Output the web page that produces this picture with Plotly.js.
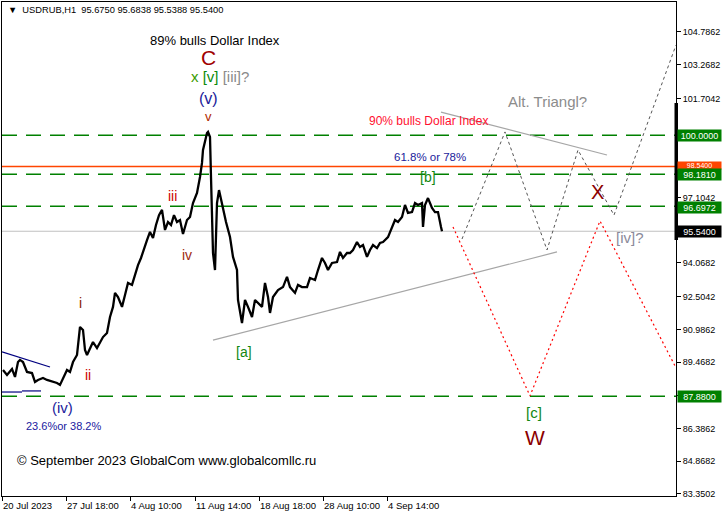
<!DOCTYPE html>
<html>
<head>
<meta charset="utf-8">
<script src="https://cdn.plot.ly/plotly-3.0.1.min.js"></script>
<style>html,body{margin:0;padding:0;background:#fff;}#chart{width:722px;height:518px;}</style>
</head>
<body>
<div id="chart"></div>
<script>
// ---- data (bar index on x, price on y) ----
const barIdx = [3,7,12,15,18,20,23,27,32,35,38,43,47,53,57,60,63,67,70,73,77,80,83,85,87,90,93,97,100,103,107,110,113,115,118,122,125,128,132,135,138,141,144,147,150,153,156,159,162,165,168,171,174,177,180,183,187,190,193,197,200,202,203,205,207,208,210,211,212,213,215,216,217,219,221,223,226,230,233,237,238,242,245,248,252,255,258,262,265,268,270,273,278,283,287,290,295,298,302,307,310,315,318,322,325,328,332,337,340,343,347,350,353,357,360,363,367,370,373,377,380,383,388,392,395,398,402,405,408,412,415,418,422,423,425,428,432,435,438,441,442];
const closePrice = [89.10,88.87,89.15,88.78,89.47,89.57,89.47,89.01,88.96,88.55,88.64,88.73,88.64,88.55,88.50,88.41,88.73,89.10,89.01,89.47,89.80,91.10,90.96,90.03,89.80,90.12,90.40,90.12,90.40,90.63,90.82,91.56,92.03,92.68,92.49,92.03,92.58,93.14,93.05,93.51,93.97,94.30,94.67,95.13,95.51,95.23,95.83,96.29,96.53,95.60,95.97,95.83,96.29,95.97,96.06,95.41,96.06,96.20,96.85,97.32,98.06,98.71,99.31,99.77,100.10,100.15,99.91,98.06,96.06,94.53,93.74,96.06,96.85,97.45,96.99,96.67,95.97,95.27,94.35,93.74,92.35,91.28,92.35,92.03,91.56,92.35,92.21,92.03,93.14,92.49,91.75,92.49,92.81,92.95,93.42,92.95,92.68,93.05,92.95,92.95,93.37,93.28,93.74,94.30,94.07,93.74,94.07,94.11,94.58,94.30,94.53,94.53,94.67,95.04,94.81,94.90,94.35,94.67,94.90,94.76,95.00,95.04,95.27,95.74,96.06,95.97,96.20,96.76,96.39,96.43,96.85,96.76,96.85,95.74,96.76,97.08,96.62,96.43,96.43,95.74,95.54];

const levelGreen = [100.0, 98.181, 96.6972, 87.88];
const levelOrange = 98.54;
const levelBid = 95.54;

const supportX = [213, 557];   const supportY = [90.49, 94.58];
const upperX = [441, 607];     const upperY = [101.07, 99.08];
const navyX = [2, 50];         const navyY = [89.94, 89.24];
const navyLowX1 = [2, 22];     const navyLowY1 = [88.08, 88.08];
const navyLowX2 = [22, 41];    const navyLowY2 = [88.13, 88.13];
const altPathX = [462, 505, 547, 578, 614, 676];
const altPathY = [95.18, 100.15, 94.67, 99.31, 96.29, 104.18];
const mainPathX = [453, 530, 600, 675];
const mainPathY = [95.74, 87.90, 96.02, 89.29];

const yTickVals = [104.7862,103.2682,101.7042,100.1862,98.6462,97.1042,95.5862,94.0682,92.5042,90.9862,89.4682,87.9262,86.3862,84.8682,83.3502];
const yTickHidden = [100.1862, 98.6462, 95.5862, 87.9262];   // covered by price tags
const yTickText = yTickVals.map(v => yTickHidden.includes(v) ? '' : v.toFixed(4));
const xTickPos = [2, 66, 130, 195, 259, 323, 387];
const xTickLabels = ['20 Jul 2023','27 Jul 18:00','4 Aug 10:00','11 Aug 14:00','18 Aug 18:00','28 Aug 10:00','4 Sep 14:00'];

const tagValues = [100.0, 98.54, 98.181, 96.6972, 95.54, 87.88];
const tagColors = ['#008000', '#ff4500', '#008000', '#008000', '#000000', '#008000'];

// ---- helpers for positioning text (pixel -> axis) ----
const Y_TOP = 106.178, Y_BOT = 83.255;
function yp(py){ return 104.7862 - (py - 32) / 21.55; }

const F = 'Liberation Sans, Arial, sans-serif';
const traces = [];
function seg(x, y, color, width, dash){
  traces.push({x:x, y:y, type:'scatter', mode:'lines', hoverinfo:'skip',
    line:{color:color, width:width, dash:dash||'solid'}, showlegend:false});
}
seg(supportX, supportY, '#a6a6a6', 1.2);
seg(upperX, upperY, '#a6a6a6', 1.2);
seg(navyX, navyY, '#000080', 1.2);
seg(navyLowX1, navyLowY1, '#000080', 1.2);
seg(navyLowX2, navyLowY2, '#000080', 1.2);
seg(altPathX, altPathY, '#555555', 1, '3px,3px');
seg(mainPathX, mainPathY, '#ff0000', 1.2, '2px,3px');
traces.push({x:barIdx, y:closePrice, type:'scatter', mode:'lines', hoverinfo:'skip',
  line:{color:'#000000', width:2.3}, showlegend:false});

const shapes = [];
levelGreen.forEach(v => shapes.push({type:'line', xref:'paper', x0:0, x1:1, yref:'y', y0:v, y1:v,
  line:{color:'#008000', width:1.5, dash:'15px,9px'}, layer:'below'}));
shapes.push({type:'line', xref:'paper', x0:0, x1:1, yref:'y', y0:levelOrange, y1:levelOrange,
  line:{color:'#ff4500', width:1.5}, layer:'below'});
shapes.push({type:'line', xref:'paper', x0:0, x1:1, yref:'y', y0:levelBid, y1:levelBid,
  line:{color:'#c0c0c0', width:1.2}, layer:'below'});
shapes.push({type:'rect', xref:'paper', x0:1-1.5/674, x1:1+2/674, yref:'y', y0:yp(103), y1:yp(240),
  fillcolor:'#000', line:{width:0}});

const annotations = [];
function txt(text, px, py, size, color, anchor){
  annotations.push({text:text, x:px, xref:'x', y:yp(py), yref:'y', showarrow:false,
    xanchor:anchor||'center', yanchor:'middle', font:{family:F, size:size, color:color}});
}
txt('▼  USDRUB,H1  95.6750 95.6838 95.5388 95.5400', 6, 10, 9.3, '#000', 'left');
txt('89% bulls Dollar Index', 215, 41, 13, '#000');
txt('C', 208, 58, 21, '#a00000');
txt('<span style="color:#3c9c00">x</span> <span style="color:#0a8a0a">[v]</span> <span style="color:#8a8a8a">[iii]?</span>', 220, 77, 15, '#0a8a0a');
txt('(v)', 208, 98, 16, '#1a1a9a');
txt('v', 208, 116, 13, '#b02a00');
txt('iii', 172, 196, 14, '#cc0000');
txt('iv', 187, 255, 14, '#a02a10');
txt('i', 80, 303, 14, '#8b1a00');
txt('ii', 88, 375, 14, '#cc0000');
txt('(iv)', 62, 407, 15, '#1c1c9c');
txt('23.6%or 38.2%', 63, 426, 11, '#2020a0');
txt('[a]', 244, 352, 14, '#118811');
txt('[b]', 428, 177, 14, '#118811');
txt('61.8% or 78%', 430, 157, 11.5, '#1c1c9c');
txt('90% bulls Dollar Index', 428, 121, 12, '#ff1030');
txt('Alt. Triangl?', 547, 101, 15, '#8c8c8c');
txt('X', 597, 192, 20, '#8b0000');
txt('[iv]?', 630, 237, 15, '#8a8a9a');
txt('[c]', 534, 412, 15, '#118811');
txt('W', 535, 437, 21, '#8b0000');
txt('© September 2023 GlobalCom www.globalcomllc.ru', 15, 460, 13, '#000', 'left');

xTickPos.forEach((p, i) => annotations.push({text:xTickLabels[i], x:p, xref:'x', y:0, yref:'paper',
  yanchor:'top', xanchor:'left', yshift:-2, xshift:-1, showarrow:false, font:{family:F, size:9.5, color:'#000'}}));

tagValues.forEach((v, i) => {
  const isHalf = (v === 98.54);   // mostly hidden behind the 98.1810 tag, as in the original
  const shift = isHalf ? 1.5 : (v === 96.6972 ? -1.5 : 0);
  annotations.push({text:v.toFixed(4), x:1, xref:'paper', y:v, yref:'y', xanchor:'left',
    yanchor:'middle', xshift:1, yshift:shift, showarrow:false, bgcolor:tagColors[i], borderpad:0,
    width:43, height: isHalf ? 7 : 11, font:{family:F, size: isHalf ? 7 : 9, color:'#fff'}});
});

const layout = {
  width:722, height:518,
  margin:{l:2, r:46, t:2, b:22, pad:0},
  paper_bgcolor:'#fff', plot_bgcolor:'#fff',
  showlegend:false,
  xaxis:{range:[2,676], showgrid:false, zeroline:false, showline:true, mirror:true, linecolor:'#000', linewidth:1,
    ticks:'outside', ticklen:4, tickcolor:'#000', tickvals:xTickPos, showticklabels:false, fixedrange:true},
  yaxis:{range:[Y_BOT, Y_TOP], side:'right', showgrid:false, zeroline:false, showline:true, mirror:true,
    linecolor:'#000', linewidth:1, ticks:'outside', ticklen:4, tickcolor:'#000',
    tickvals:yTickVals, ticktext:yTickText, tickfont:{family:F, size:9, color:'#000'}, fixedrange:true},
  shapes:shapes,
  annotations:annotations
};
Plotly.newPlot('chart', traces, layout, {displayModeBar:false, staticPlot:true});
</script>
</body>
</html>
